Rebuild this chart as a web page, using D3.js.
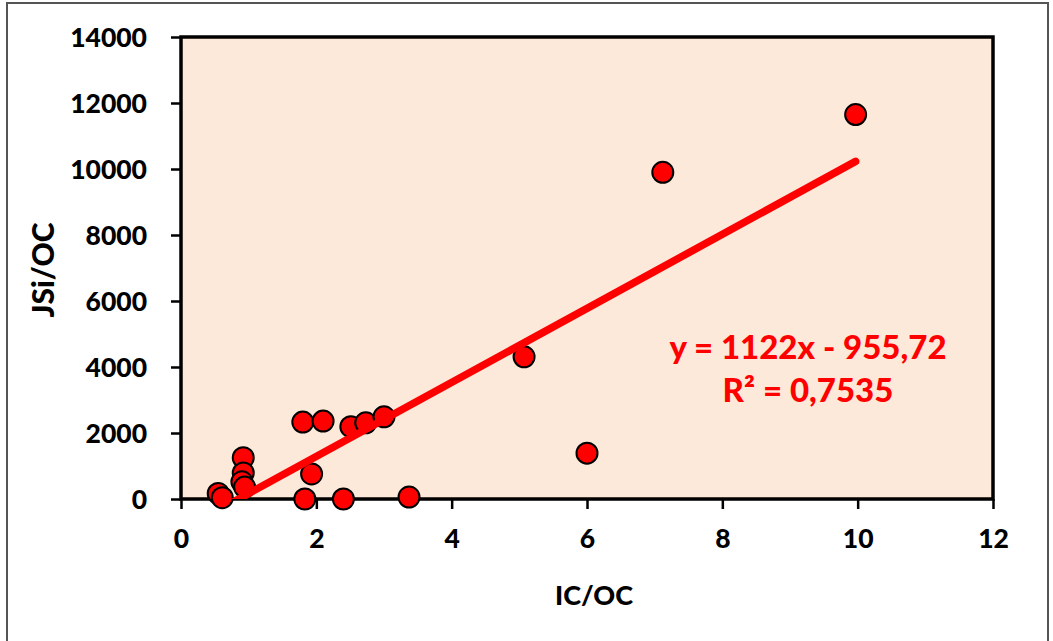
<!DOCTYPE html>
<html>
<head>
<meta charset="utf-8">
<script src="https://cdn.jsdelivr.net/npm/d3@7"></script>
<style>
  html, body { margin: 0; padding: 0; background: #fff; }
  svg { display: block; font-family: Lato, "Open Sans", sans-serif; font-weight: 900; }
</style>
</head>
<body>
<svg id="chart" width="1053" height="641"></svg>
<script>
'use strict';

// IC/OC vs JSi/OC samples
const icOc  = [9.97, 7.12, 5.07, 6.00, 1.80, 2.10, 2.51, 2.73, 3.00, 0.92, 0.92, 0.90, 0.94, 0.55, 0.61, 1.93, 1.83, 2.40, 3.37];
const jsiOc = [11650, 9900, 4310, 1390, 2330, 2360, 2190, 2310, 2490, 1250, 790, 520, 360, 170, 40, 760, 0, 0, 60];

// linear trend y = a*x + b
const slope = 1122;
const intercept = -955.72;
const rSquared = '0,7535';

const xTicks = [0, 2, 4, 6, 8, 10, 12];
const yTicks = [0, 2000, 4000, 6000, 8000, 10000, 12000, 14000];

const svg = d3.select('#chart');

const plot = { left: 181, right: 993, top: 37, bottom: 499 };

const x = d3.scaleLinear().domain([0, 12]).range([plot.left, plot.right]);
const y = d3.scaleLinear().domain([0, 14000]).range([plot.bottom, plot.top]);

// outer chart frame
svg.append('rect')
  .attr('x', 7).attr('y', 3)
  .attr('width', 1041).attr('height', 660)
  .attr('fill', '#fff')
  .attr('stroke', '#555')
  .attr('stroke-width', 2);

// plot background
svg.append('rect')
  .attr('x', plot.left).attr('y', plot.top)
  .attr('width', plot.right - plot.left)
  .attr('height', plot.bottom - plot.top)
  .attr('fill', '#fde9d9');

svg.append('clipPath').attr('id', 'plot-clip')
  .append('rect')
  .attr('x', plot.left).attr('y', plot.top)
  .attr('width', plot.right - plot.left)
  .attr('height', plot.bottom - plot.top);

// axes
const xAxis = svg.append('g')
  .attr('transform', `translate(0,${plot.bottom})`)
  .call(d3.axisBottom(x).tickValues(xTicks).tickSize(10).tickPadding(20).tickFormat(d3.format('d')));

const yAxis = svg.append('g')
  .attr('transform', `translate(${plot.left},0)`)
  .call(d3.axisLeft(y).tickValues(yTicks).tickSize(10).tickPadding(24).tickFormat(d3.format('d')));

[xAxis, yAxis].forEach(g => {
  g.select('.domain').remove();
  g.selectAll('.tick line').attr('stroke', '#000').attr('stroke-width', 2.5);
  g.selectAll('.tick text')
    .attr('fill', '#000')
    .style('font-family', 'Lato, sans-serif')
    .style('font-weight', '900')
    .style('font-size', '26.5px');
});
yAxis.selectAll('.tick text').attr('dy', '0.36em');

// plot border
svg.append('rect')
  .attr('x', plot.left).attr('y', plot.top)
  .attr('width', plot.right - plot.left)
  .attr('height', plot.bottom - plot.top)
  .attr('fill', 'none')
  .attr('stroke', '#000')
  .attr('stroke-width', 3.5);

// data points
const points = icOc.map((v, i) => ({ x: v, y: jsiOc[i] }));

svg.append('g')
  .selectAll('circle')
  .data(points)
  .enter()
  .append('circle')
  .attr('cx', d => x(d.x))
  .attr('cy', d => y(d.y))
  .attr('r', 10.5)
  .attr('fill', '#ff0000')
  .attr('stroke', '#000')
  .attr('stroke-width', 2);

// trend line across the x range of the data
const [xMin, xMax] = d3.extent(icOc);
svg.append('g')
  .attr('clip-path', 'url(#plot-clip)')
  .append('line')
  .attr('x1', x(xMin)).attr('y1', y(slope * xMin + intercept))
  .attr('x2', x(xMax)).attr('y2', y(slope * xMax + intercept))
  .attr('stroke', '#ff0000')
  .attr('stroke-width', 7.5)
  .attr('stroke-linecap', 'round');

// equation label
const eq = svg.append('text')
  .attr('x', 808)
  .attr('text-anchor', 'middle')
  .attr('fill', '#ff0000')
  .style('font-size', '33px');
eq.append('tspan').attr('x', 808).attr('y', 359)
  .text(`y = ${slope}x - ${String(Math.abs(intercept)).replace('.', ',')}`);
eq.append('tspan').attr('x', 808).attr('y', 402)
  .text(`R² = ${rSquared}`);

// axis titles
svg.append('text')
  .attr('x', 594).attr('y', 605)
  .attr('text-anchor', 'middle')
  .style('font-size', '27px')
  .text('IC/OC');

svg.append('text')
  .attr('transform', 'translate(54,270) rotate(-90)')
  .attr('text-anchor', 'middle')
  .style('font-size', '30px')
  .text('JSi/OC');
</script>
</body>
</html>
